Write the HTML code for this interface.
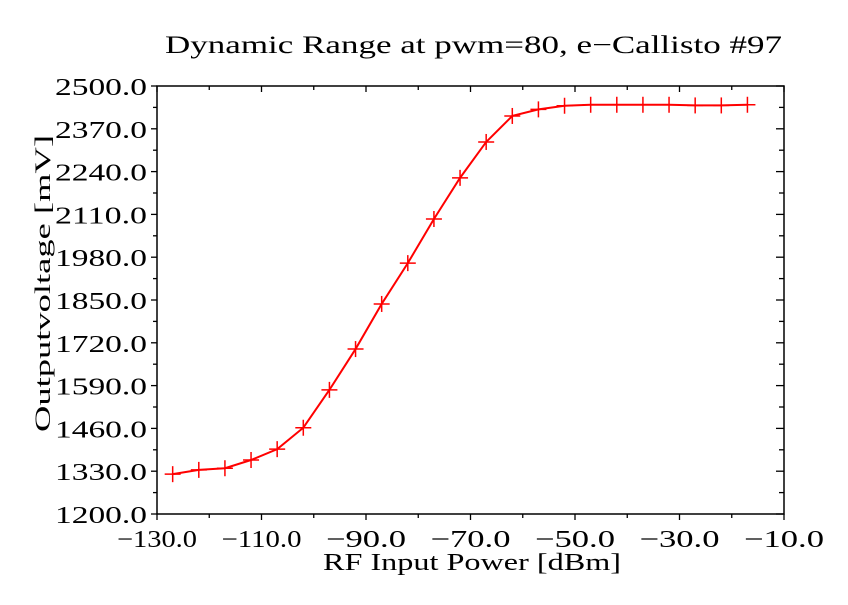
<!DOCTYPE html>
<html><head><meta charset="utf-8"><style>
body{margin:0;background:#fff;}
svg text{font-family:"Liberation Serif","DejaVu Serif",serif;fill:#000;}
</style></head><body>
<svg id="chart" width="848" height="600" viewBox="0 0 848 600" xmlns="http://www.w3.org/2000/svg">
<rect width="848" height="600" fill="#fff"/>
<text x="165" y="53" font-size="25" textLength="617" lengthAdjust="spacingAndGlyphs">Dynamic Range at pwm=80, e−Callisto #97</text>
<text x="323" y="570" font-size="24" textLength="298" lengthAdjust="spacingAndGlyphs">RF Input Power [dBm]</text>
<text transform="translate(50,432) rotate(-90)" font-size="22" textLength="297" lengthAdjust="spacingAndGlyphs">Outputvoltage [mV]</text>
<rect x="157" y="86" width="627" height="428" fill="none" stroke="#000" stroke-width="1.5"/>
<g id="axes"></g>
<g id="series"></g>
</svg>
<script>
const xValues=[-127,-122,-117,-112,-107,-102,-97,-92,-87,-82,-77,-72,-67,-62,-57,-52,-47,-42,-37,-32,-27,-22,-17];
const yValues=[1321,1334,1339,1364,1397,1462,1577,1701,1838,1962,2096,2221,2330,2409,2429,2440,2443,2443,2443,2443,2441,2441,2443];
const xTicks=[-130,-110,-90,-70,-50,-30,-10];
const yTicks=[1200,1330,1460,1590,1720,1850,1980,2110,2240,2370,2500];
const X0=157,X1=784,Y0=514,Y1=86;
function sx(v){return X0+(v+130)/120*(X1-X0);}
function sy(v){return Y0-(v-1200)/1300*(Y0-Y1);}
const NS='http://www.w3.org/2000/svg';
const ax=document.getElementById('axes');
function ln(x1,y1,x2,y2,c,w,p){const l=document.createElementNS(NS,'line');l.setAttribute('x1',x1);l.setAttribute('y1',y1);l.setAttribute('x2',x2);l.setAttribute('y2',y2);l.setAttribute('stroke',c);l.setAttribute('stroke-width',w);p.appendChild(l);return l;}
for(let v=-130;v<=-10;v+=10){const x=sx(v);const maj=xTicks.includes(v);
const t1=ln(x,Y0,x,Y0+(maj?6:4),'#000',1.3,ax);


ln(x,Y1,x,Y1+(maj?6:4),'#000',1.3,ax);}
xTicks.forEach(v=>{const t=document.createElementNS(NS,'text');t.setAttribute('x',sx(v));t.setAttribute('y',547);t.setAttribute('font-size','24');t.setAttribute('text-anchor','middle');t.setAttribute('textLength','80');t.setAttribute('lengthAdjust','spacingAndGlyphs');t.textContent=(v<0?'−':'')+Math.abs(v).toFixed(1);


ax.appendChild(t);});
for(let v=1200;v<=2500;v+=65){const y=sy(v);const maj=(v-1200)%130===0;
const t1=ln(X0-(maj?6:4),y,X0,y,'#000',1.3,ax);


ln(X1-(maj?8:5),y,X1,y,'#000',1.3,ax);}
yTicks.forEach(v=>{const t=document.createElementNS(NS,'text');t.setAttribute('x',55);t.setAttribute('y',sy(v)+9);t.setAttribute('font-size','24');t.setAttribute('textLength','92');t.setAttribute('lengthAdjust','spacingAndGlyphs');t.textContent=v.toFixed(1);


ax.appendChild(t);});
const se=document.getElementById('series');
const pl=document.createElementNS(NS,'polyline');
pl.setAttribute('points',xValues.map((x,i)=>sx(x)+','+sy(yValues[i])).join(' '));
pl.setAttribute('fill','none');pl.setAttribute('stroke','#f00');pl.setAttribute('stroke-width','2');


se.appendChild(pl);
xValues.forEach((x,i)=>{const cx=sx(x),cy=sy(yValues[i]);
const g=document.createElementNS(NS,'g');


ln(cx-8,cy,cx+8,cy,'#f00',1.5,g);ln(cx,cy-8,cx,cy+8,'#f00',1.5,g);se.appendChild(g);});
</script>
</body></html>
